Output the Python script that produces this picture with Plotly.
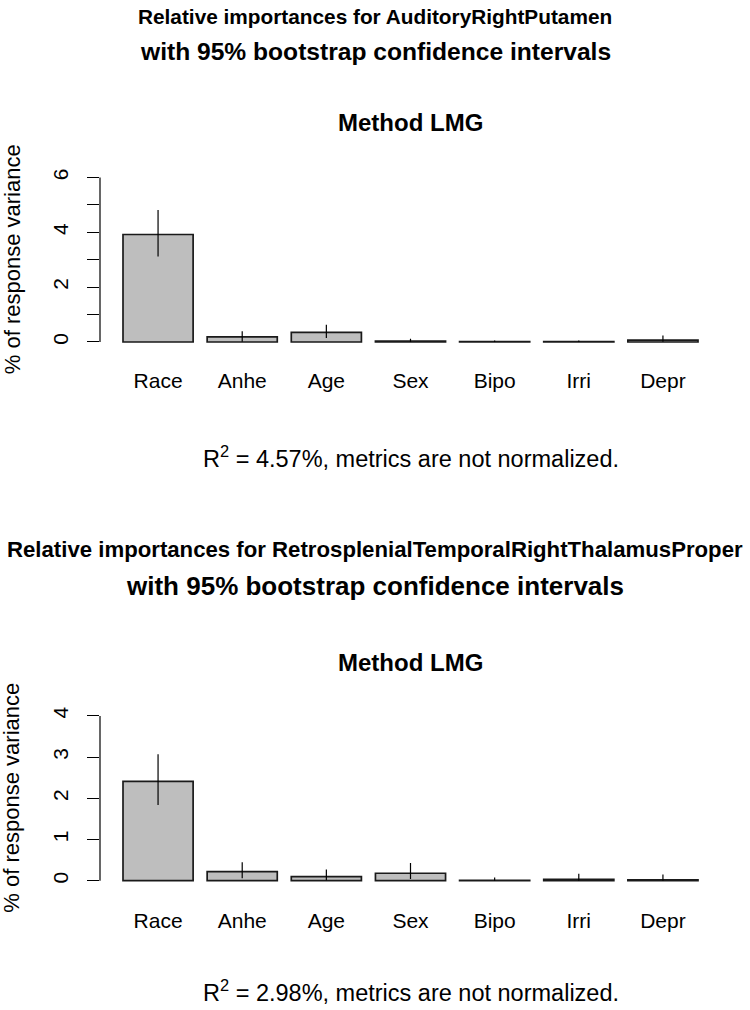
import plotly.graph_objects as go

# ---------------- data ----------------
categories = ["Race", "Anhe", "Age", "Sex", "Bipo", "Irri", "Depr"]

top_values = [3.92, 0.19, 0.35, 0.03, 0.01, 0.01, 0.07]
top_lower = [3.12, 0.01, 0.15, 0.00, 0.00, 0.00, 0.01]
top_upper = [4.81, 0.39, 0.63, 0.12, 0.05, 0.05, 0.24]
top_ticks = [0, 2, 4, 6]
top_minor_ticks = [1, 3, 5]
top_title = "Relative importances for AuditoryRightPutamen"
top_r2 = "4.57%"

bot_values = [2.41, 0.22, 0.10, 0.18, 0.005, 0.03, 0.02]
bot_lower = [1.84, 0.06, 0.01, 0.04, 0.00, 0.00, 0.00]
bot_upper = [3.07, 0.45, 0.27, 0.43, 0.08, 0.17, 0.15]
bot_ticks = [0, 1, 2, 3, 4]
bot_minor_ticks = []
bot_title = "Relative importances for RetrosplenialTemporalRightThalamusProper"
bot_r2 = "2.98%"

subtitle = "with 95% bootstrap confidence intervals"
method_title = "Method LMG"
ylabel = "% of response variance"

# ---------------- layout helpers ----------------
W, H = 750, 1010
FONT = "Liberation Sans, Arial, sans-serif"


def px_x(p):
    return p / W


def px_y(p):
    return 1 - p / H


fig = go.Figure()

panels = [
    dict(vals=top_values, lo=top_lower, hi=top_upper, ticks=top_ticks, minor=top_minor_ticks,
         yrange=[-0.24, 6.24], ydom=[px_y(346.6), px_y(168.4)], xa="x", ya="y",
         title=top_title, r2=top_r2, t1=14, t2=49, t3=120, lab=257, r2y=455, tsize=20.8, ssize=24.6,
         standoff=17),
    dict(vals=bot_values, lo=bot_lower, hi=bot_upper, ticks=bot_ticks, minor=bot_minor_ticks,
         yrange=[-0.16, 4.16], ydom=[px_y(886.9), px_y(708.4)], xa="x2", ya="y2",
         title=bot_title, r2=bot_r2, t1=548, t2=585, t3=661, lab=797, r2y=991, tsize=22.2, ssize=26,
         standoff=19),
]

xdom = [px_x(100), px_x(721)]
annotations = []
shapes = []

for i, p in enumerate(panels):
    err_plus = [h - v for h, v in zip(p["hi"], p["vals"])]
    err_minus = [v - l for v, l in zip(p["vals"], p["lo"])]
    fig.add_trace(go.Bar(
        x=categories, y=p["vals"], xaxis=p["xa"], yaxis=p["ya"],
        marker=dict(color="#bebebe", line=dict(color="#1a1a1a", width=1.7)),
        error_y=dict(type="data", symmetric=False, array=err_plus, arrayminus=err_minus,
                     color="black", thickness=1.2, width=0),
        showlegend=False, hoverinfo="skip",
    ))
    suffix = "" if i == 0 else "2"
    fig.layout["xaxis" + suffix] = dict(
        domain=xdom, anchor=p["ya"], range=[-0.69, 6.69], showline=False, showgrid=False,
        zeroline=False, ticks="", tickfont=dict(family=FONT, size=21, color="black"),
        ticklabelstandoff=p["standoff"], fixedrange=True,
    )
    all_ticks = sorted(p["ticks"] + p["minor"])
    yax = dict(
        domain=p["ydom"], anchor=p["xa"], range=p["yrange"], showline=False, showgrid=False,
        zeroline=False, tickmode="array", tickvals=p["ticks"],
        ticks="outside", ticklen=12, tickwidth=1.2, tickcolor="black", tickangle=-90,
        tickfont=dict(family=FONT, size=21, color="black"), ticklabelstandoff=11,
        fixedrange=True,
    )
    if p["minor"]:
        yax["minor"] = dict(tickmode="array", tickvals=p["minor"], ticks="outside",
                            ticklen=12, tickwidth=1.2, tickcolor="black", showgrid=False)
    fig.layout["yaxis" + suffix] = yax
    # R-style axis line spanning only the tick range
    shapes.append(dict(type="line", xref="paper", yref=p["ya"], x0=xdom[0], x1=xdom[0],
                       y0=min(all_ticks), y1=max(all_ticks),
                       line=dict(color="black", width=1.2)))
    annotations += [
        dict(text="<b>%s</b>" % p["title"], x=0.5, y=px_y(p["t1"]), xref="paper", yref="paper",
             showarrow=False, xanchor="center", yanchor="middle",
             font=dict(family=FONT, size=p["tsize"], color="black")),
        dict(text="<b>%s</b>" % subtitle, x=0.5, y=px_y(p["t2"]), xref="paper", yref="paper",
             showarrow=False, xanchor="center", yanchor="middle",
             font=dict(family=FONT, size=p["ssize"], color="black")),
        dict(text="<b>%s</b>" % method_title, x=(xdom[0] + xdom[1]) / 2, y=px_y(p["t3"]),
             xref="paper", yref="paper", showarrow=False, xanchor="center", yanchor="middle",
             font=dict(family=FONT, size=24, color="black")),
        dict(text=ylabel, x=px_x(12), y=px_y(p["lab"]), xref="paper", yref="paper",
             showarrow=False, xanchor="center", yanchor="middle", textangle=-90,
             font=dict(family=FONT, size=22, color="black")),
        dict(text="R<sup>2</sup> = %s, metrics are not normalized." % p["r2"],
             x=(xdom[0] + xdom[1]) / 2, y=px_y(p["r2y"]), xref="paper", yref="paper",
             showarrow=False, xanchor="center", yanchor="middle",
             font=dict(family=FONT, size=23.5, color="black")),
    ]

fig.update_layout(
    width=W, height=H, autosize=False,
    margin=dict(l=0, r=0, t=0, b=0),
    paper_bgcolor="white", plot_bgcolor="white",
    bargap=1 - 1 / 1.2,
    annotations=annotations, shapes=shapes,
)

fig.write_html("out.html", config={"displayModeBar": False},
               post_script="document.body.style.margin='0';")
